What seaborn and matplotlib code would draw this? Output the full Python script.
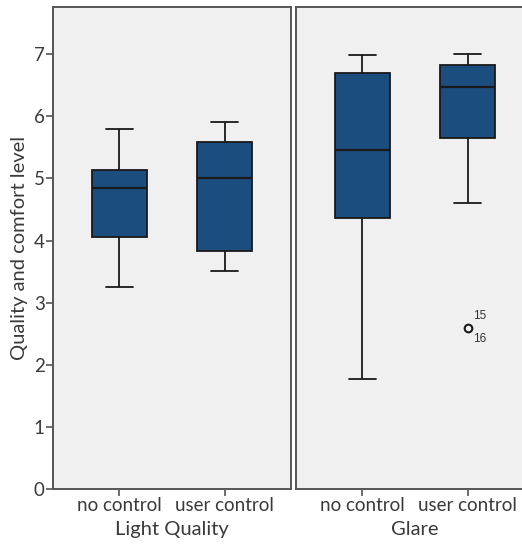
import numpy as np
import pandas as pd
import matplotlib
matplotlib.use("Agg")
import matplotlib.pyplot as plt
import seaborn as sns

# Five-number summaries (min, Q1, median, Q3, max) of the ratings
groups = ["no control", "user control"]
light_quality_no_control = [3.25, 4.05, 4.84, 5.13, 5.79]
light_quality_user_control = [3.51, 3.83, 5.00, 5.58, 5.91]
glare_no_control = [1.77, 4.36, 5.45, 6.69, 6.99]
glare_user_control = [4.60, 5.65, 6.48, 6.83, 7.00]

# Outlying case in the glare / user control group
outlier_group = "user control"
outlier_value = 2.60
outlier_cases = ["15", "16"]

panels = ["Light Quality", "Glare"]
y_label = "Quality and comfort level"
y_ticks = [0, 1, 2, 3, 4, 5, 6, 7]

rows = []
for panel, series in zip(panels, [(light_quality_no_control, light_quality_user_control),
                                  (glare_no_control, glare_user_control)]):
    for grp, vals in zip(groups, series):
        for v in vals:
            rows.append({"panel": panel, "group": grp, "value": v})
df = pd.DataFrame(rows)

sns.set_theme(style="white")
plt.rcParams["font.family"] = ["Lato", "DejaVu Sans"]

W, H = 522, 546
fig = plt.figure(figsize=(W / 100, H / 100), dpi=100)
fig.patch.set_facecolor("white")

bottom_px, top_px = 489, 7
ax_h = (bottom_px - top_px) / H
ax_b = (H - bottom_px) / H
ax_w = 238 / W
ax1 = fig.add_axes([53 / W, ax_b, ax_w, ax_h])
# the second panel runs past the right edge of the canvas
ax2 = fig.add_axes([296 / W, ax_b, ax_w, ax_h], sharey=ax1)

box_color = "#1B4D7E"
text_color = "#3a3a3a"
frame_color = "#555555"

for ax, panel in zip([ax1, ax2], panels):
    sub = df[df["panel"] == panel]
    sns.boxplot(data=sub, x="group", y="value", order=groups, ax=ax,
                color=box_color, saturation=1, width=0.52, whis=(0, 100),
                linecolor="#1a1a1a", linewidth=1.3, fliersize=0,
                medianprops={"color": "#1a1a1a", "linewidth": 1.6})
    ax.set_facecolor("#F0F0F0")
    ax.set_xlim(-0.63, 1.63)
    ax.set_ylim(0, 7.76)
    ax.set_xlabel(panel, fontsize=14.5, color=text_color, labelpad=5)
    ax.set_ylabel("")
    for s in ax.spines.values():
        s.set_visible(True)
        s.set_color(frame_color)
        s.set_linewidth(1.4)
    ax.tick_params(axis="x", which="both", bottom=True, length=5, width=1.2,
                   color=frame_color, labelsize=13.5, labelcolor=text_color, pad=0.5)

ax1.set_yticks(y_ticks)
ax1.tick_params(axis="y", left=True, length=5, width=1.2, color=frame_color,
                labelsize=13.5, labelcolor=text_color, pad=1)
ax1.set_ylabel(y_label, fontsize=14.5, color=text_color, labelpad=4)
ax2.tick_params(axis="y", left=False, labelleft=False)

# Outlier marker with its case numbers
xo = groups.index(outlier_group)
ax2.plot([xo], [outlier_value], marker="o", markersize=5.5, markerfacecolor="none",
         markeredgecolor="#1a1a1a", markeredgewidth=1.5, linestyle="none")
ax2.text(xo + 0.05, outlier_value + 0.18, outlier_cases[0], fontsize=8.5,
         family="Liberation Sans", color="#333333", ha="left", va="center")
ax2.text(xo + 0.05, outlier_value - 0.18, outlier_cases[1], fontsize=8.5,
         family="Liberation Sans", color="#333333", ha="left", va="center")

fig.savefig("out.png", dpi=100)
